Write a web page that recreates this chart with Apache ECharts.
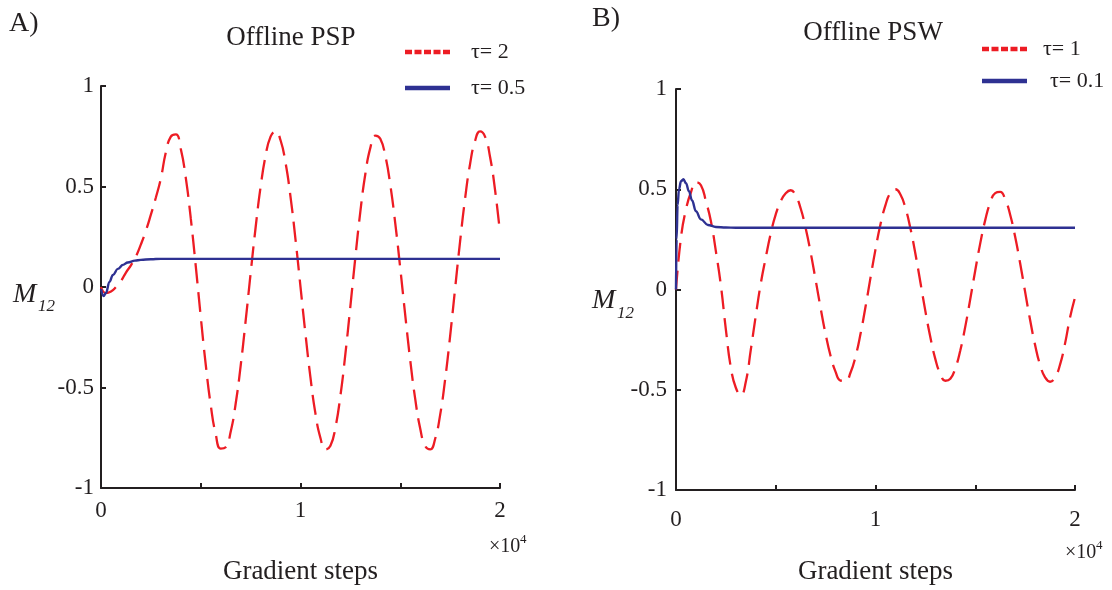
<!DOCTYPE html>
<html>
<head>
<meta charset="utf-8">
<script src="https://cdn.jsdelivr.net/npm/echarts@6/dist/echarts.min.js"></script>
<style>
html,body{margin:0;padding:0;background:#fff;}
#chart{width:1112px;height:590px;}
</style>
</head>
<body>
<div id="chart"></div>
<script>
// ---------- data ----------
var stepsGrid = [0,250,500,750,1000,1250,1500,1750,2000,2250,2500,2750,3000,3250,3500,3750,4000,4250,4500,4750,5000,5250,5500,5750,6000,6250,6500,6750,7000,7250,7500,7750,8000,8250,8500,8750,9000,9250,9500,9750,10000,10250,10500,10750,11000,11250,11500,11750,12000,12250,12500,12750,13000,13250,13500,13750,14000,14250,14500,14750,15000,15250,15500,15750,16000,16250,16500,16750,17000,17250,17500,17750,18000,18250,18500,18750,19000,19250,19500,19750,20000];

// Panel A (Offline PSP), tau = 2 (red dashed)
var pspTau2 = [0.0,-0.03,-0.022,0.0,0.03,0.072,0.108,0.152,0.212,0.28,0.36,0.445,0.54,0.67,0.748,0.759,0.687,0.543,0.341,0.104,-0.148,-0.386,-0.587,-0.732,-0.804,-0.797,-0.72,-0.581,-0.392,-0.169,0.068,0.296,0.498,0.653,0.748,0.774,0.73,0.618,0.448,0.236,0.001,-0.235,-0.451,-0.63,-0.751,-0.808,-0.79,-0.699,-0.541,-0.333,-0.096,0.148,0.375,0.562,0.692,0.753,0.737,0.653,0.509,0.317,0.094,-0.14,-0.364,-0.557,-0.704,-0.791,-0.808,-0.755,-0.636,-0.46,-0.244,-0.008,0.227,0.44,0.612,0.727,0.774,0.748,0.648,0.484,0.27];

// Panel A (Offline PSP), tau = 0.5 (blue solid)
var pspTau05Steps = [0,130,250,420,600,840,1100,1340,1700,2000,2500,3000,20000];
var pspTau05 = [-0.01,-0.045,-0.03,0.025,0.06,0.09,0.11,0.122,0.131,0.135,0.138,0.14,0.14];

// Panel B (Offline PSW), tau = 1 (red dashed)
var pswTau1 = [0.0,0.26,0.40,0.485,0.535,0.52,0.44,0.34,0.19,0.02,-0.2,-0.39,-0.49,-0.527,-0.46,-0.3,-0.13,0.03,0.16,0.28,0.375,0.44,0.48,0.495,0.468,0.404,0.305,0.184,0.047,-0.093,-0.223,-0.332,-0.411,-0.454,-0.456,-0.414,-0.334,-0.221,-0.086,0.059,0.2,0.325,0.421,0.482,0.5,0.474,0.407,0.305,0.178,0.036,-0.108,-0.238,-0.347,-0.421,-0.455,-0.445,-0.393,-0.304,-0.185,-0.048,0.095,0.23,0.346,0.433,0.481,0.487,0.45,0.373,0.263,0.131,-0.012,-0.152,-0.277,-0.376,-0.438,-0.46,-0.438,-0.375,-0.27,-0.14,-0.04];

// Panel B (Offline PSW), tau = 0.1 (blue solid)
var pswTau01Steps = [0,30,80,150,250,370,500,650,800,1000,1250,1600,2000,2500,3000,20000];
var pswTau01 = [0,0.25,0.42,0.5,0.54,0.55,0.53,0.49,0.445,0.39,0.35,0.322,0.312,0.309,0.308,0.308];

var xTicks = [0, 5000, 10000, 15000, 20000];
var yTicks = [-1, -0.5, 0, 0.5, 1];

// ---------- helpers ----------
function pairs(xs, ys){ return xs.map(function(x,i){ return [x, ys[i]]; }); }
var FONT = 'Liberation Serif';
var INK = '#231f20';
var RED = '#ed1c24';
var BLUE = '#2e3192';
var dashIcon = 'path://M0,0h7v4.5h-7z M9.5,0h7v4.5h-7z M19,0h7v4.5h-7z M28.5,0h7v4.5h-7z M38,0h7v4.5h-7z';

function xAxisFor(gridIndex, labelMargin, nameGap){
  return {
    type:'value', gridIndex:gridIndex, min:xTicks[0], max:xTicks[xTicks.length-1], interval:xTicks[1]-xTicks[0],
    axisLine:{show:true, onZero:false, lineStyle:{color:INK, width:2}},
    axisTick:{show:true, inside:true, length:5, lineStyle:{color:INK, width:2}},
    splitLine:{show:false},
    axisLabel:{margin:labelMargin, fontFamily:FONT, fontSize:23, color:INK,
      formatter:function(v){ return (v % 10000 === 0) ? String(v/10000) : ''; }},
    name:'Gradient steps', nameLocation:'middle', nameGap:nameGap,
    nameTextStyle:{fontFamily:FONT, fontSize:27, color:INK}
  };
}
function yAxisFor(gridIndex, labelMargin){
  return {
    type:'value', gridIndex:gridIndex, min:yTicks[0], max:yTicks[yTicks.length-1], interval:yTicks[1]-yTicks[0],
    axisLine:{show:true, onZero:false, lineStyle:{color:INK, width:2}},
    axisTick:{show:true, inside:true, length:5, lineStyle:{color:INK, width:2}},
    splitLine:{show:false},
    axisLabel:{margin:labelMargin, fontFamily:FONT, fontSize:23, color:INK}
  };
}
function txt(text, x, y, size, extra){
  var s = {text:text, fill:INK, font: (extra && extra.italic ? 'italic ' : '') + size + 'px "' + FONT + '"', textVerticalAlign:'top', verticalAlign:'top'};
  return {type:'text', x:x, y:y, style:s, silent:true};
}

var option = {
  animation:false,
  backgroundColor:'#ffffff',
  title:[
    {text:'Offline PSP', left:291, top:24, textAlign:'center', padding:0, textStyle:{fontFamily:FONT, fontSize:27, fontWeight:'normal', color:INK}},
    {text:'Offline PSW', left:873, top:19, textAlign:'center', padding:0, textStyle:{fontFamily:FONT, fontSize:27, fontWeight:'normal', color:INK}}
  ],
  legend:[
    {orient:'vertical', left:405, top:41, itemWidth:45, itemHeight:4.5, itemGap:14, selectedMode:false, padding:0,
     itemStyle:{borderWidth:0},
     textStyle:{fontFamily:FONT, fontSize:22, lineHeight:22, color:INK, padding:[0,0,0,16]},
     data:[{name:'τ= 2', icon:dashIcon},{name:'τ= 0.5', icon:'rect'}]},
    {orient:'vertical', left:982, top:38, itemWidth:45, itemHeight:4.5, itemGap:10, selectedMode:false, padding:0,
     itemStyle:{borderWidth:0},
     textStyle:{fontFamily:FONT, fontSize:22, lineHeight:22, color:INK, padding:[0,0,0,11]},
     data:[{name:'τ= 1', icon:dashIcon},{name:'τ= 0.1', icon:'rect', textStyle:{padding:[0,0,0,18]}}]}
  ],
  grid:[
    {left:101, top:86, width:399, height:411, containLabel:false},
    {left:676, top:89, width:399, height:410, containLabel:false}
  ],
  xAxis:[ xAxisFor(0, 11, 70), xAxisFor(1, 18, 68) ],
  yAxis:[ yAxisFor(0, 7), yAxisFor(1, 9) ],
  series:[
    {name:'τ= 2', type:'line', xAxisIndex:0, yAxisIndex:0, data:pairs(stepsGrid, pspTau2), symbol:'none', smooth:0.5,
     lineStyle:{color:RED, width:2.3, type:[20,9]}, itemStyle:{color:RED}, z:2},
    {name:'τ= 0.5', type:'line', xAxisIndex:0, yAxisIndex:0, data:pairs(pspTau05Steps, pspTau05), symbol:'none', smooth:0.4, smoothMonotone:'x',
     lineStyle:{color:BLUE, width:2.4}, itemStyle:{color:BLUE}, z:3},
    {name:'τ= 1', type:'line', xAxisIndex:1, yAxisIndex:1, data:pairs(stepsGrid, pswTau1), symbol:'none', smooth:0.5,
     lineStyle:{color:RED, width:2.3, type:[19,9]}, itemStyle:{color:RED}, z:2},
    {name:'τ= 0.1', type:'line', xAxisIndex:1, yAxisIndex:1, data:pairs(pswTau01Steps, pswTau01), symbol:'none', smooth:0.4, smoothMonotone:'x',
     lineStyle:{color:BLUE, width:2.4}, itemStyle:{color:BLUE}, z:3}
  ],
  graphic:[
    txt('A)', 9, 10, 28),
    txt('B)', 592, 5, 28),
    txt('M', 13, 281, 28, {italic:true}),
    txt('12', 38, 298, 17, {italic:true}),
    txt('M', 592, 287, 28, {italic:true}),
    txt('12', 617, 305, 17, {italic:true}),
    txt('×10', 489, 537, 20),
    txt('4', 520, 533, 13),
    txt('×10', 1065, 543, 20),
    txt('4', 1096, 539, 13)
  ]
};

var chart = echarts.init(document.getElementById('chart'), null, {renderer:'canvas'});
chart.setOption(option);
</script>
</body>
</html>
